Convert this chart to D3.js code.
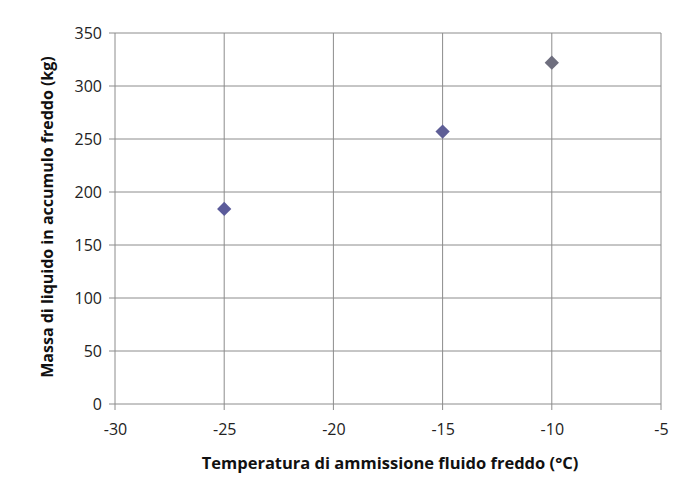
<!DOCTYPE html>
<html>
<head>
<meta charset="utf-8">
<script src="https://cdn.jsdelivr.net/npm/d3@7"></script>
<style>
  body { margin: 0; background: #fff; }
  text { font-family: "Open Sans", "Liberation Sans", sans-serif; }
</style>
</head>
<body>
<div id="chart"></div>
<script>
const temperatures = [-25, -15, -10];
const masses = [184, 257, 322];
const pointColors = ["#5b5b9a", "#5e5e96", "#6e6e7e"];
const xTicks = [-30, -25, -20, -15, -10, -5];
const yTicks = [0, 50, 100, 150, 200, 250, 300, 350];

const width = 679, height = 489;
const margin = { top: 33, right: 18, bottom: 85, left: 115 };

const svg = d3.select("#chart").append("svg")
    .attr("width", width)
    .attr("height", height);

const x = d3.scaleLinear().domain([-30, -5]).range([margin.left, width - margin.right]);
const y = d3.scaleLinear().domain([0, 350]).range([height - margin.bottom, margin.top]);

// gridlines
svg.append("g")
    .selectAll("line.h")
    .data(yTicks)
    .join("line")
    .attr("x1", margin.left - 6).attr("x2", width - margin.right)
    .attr("y1", d => y(d)).attr("y2", d => y(d))
    .attr("stroke", "#8c8c8c").attr("stroke-width", 1);

svg.append("g")
    .selectAll("line.v")
    .data(xTicks)
    .join("line")
    .attr("x1", d => x(d)).attr("x2", d => x(d))
    .attr("y1", margin.top).attr("y2", height - margin.bottom + 6)
    .attr("stroke", "#8c8c8c").attr("stroke-width", 1);

// axes labels
const yAxis = svg.append("g")
    .attr("transform", `translate(${margin.left},0)`)
    .call(d3.axisLeft(y).tickValues(yTicks).tickSize(0).tickPadding(13));
yAxis.select(".domain").remove();
yAxis.selectAll("text").attr("font-size", 16).attr("fill", "#222");

const xAxis = svg.append("g")
    .attr("transform", `translate(0,${height - margin.bottom})`)
    .call(d3.axisBottom(x).tickValues(xTicks).tickSize(0).tickPadding(20)
        .tickFormat(d => String(d)));
xAxis.select(".domain").remove();
xAxis.selectAll("text").attr("font-size", 16).attr("fill", "#222");

// points
svg.append("g")
    .selectAll("path")
    .data(temperatures)
    .join("path")
    .attr("d", d3.symbol(d3.symbolDiamond2, 130))
    .attr("transform", (d, i) => `translate(${x(d)},${y(masses[i])})`)
    .attr("fill", (d, i) => pointColors[i]);

// titles
svg.append("text")
    .attr("x", 390)
    .attr("y", 469)
    .attr("text-anchor", "middle")
    .attr("font-size", 16.5)
    .attr("font-weight", "bold")
    .attr("fill", "#111")
    .text("Temperatura di ammissione fluido freddo (°C)");

svg.append("text")
    .attr("transform", `translate(53,217) rotate(-90)`)
    .attr("text-anchor", "middle")
    .attr("font-size", 16)
    .attr("font-weight", "bold")
    .attr("fill", "#111")
    .text("Massa di liquido in accumulo freddo (kg)");
</script>
</body>
</html>
